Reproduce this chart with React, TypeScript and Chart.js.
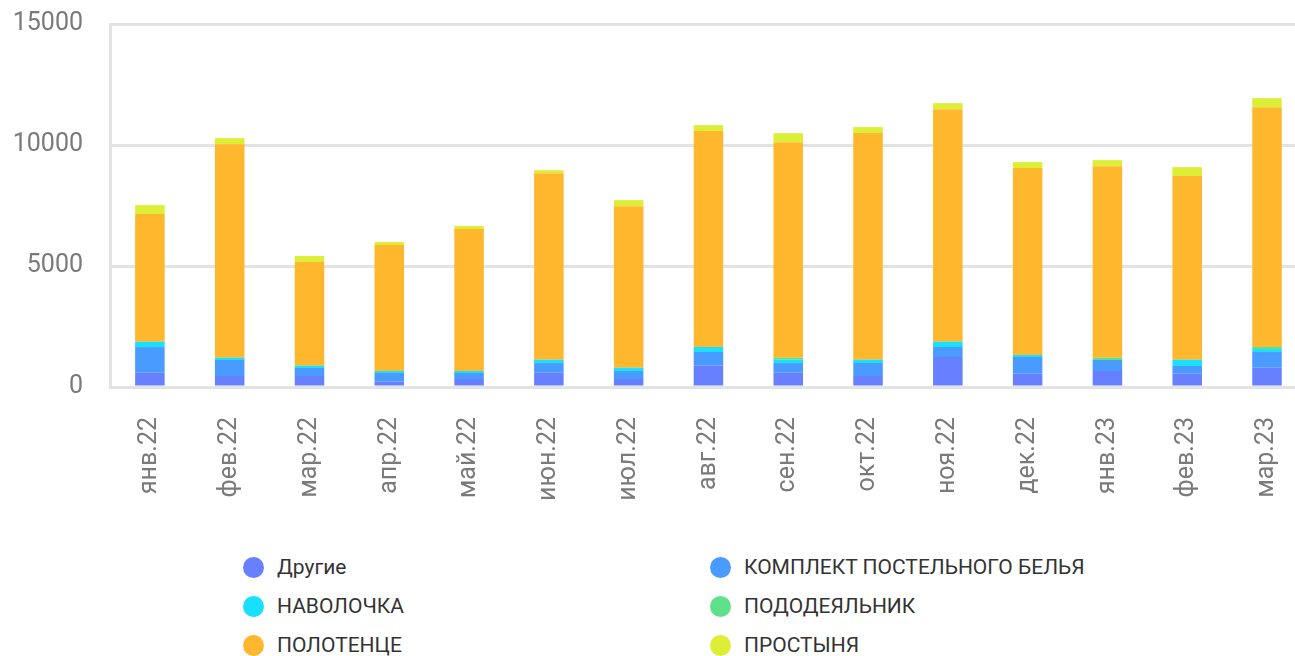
import React, { useEffect, useRef } from "react";
import { Chart, registerables } from "chart.js";

Chart.register(...registerables);

const categories = [
  "янв.22", "фев.22", "мар.22", "апр.22", "май.22", "июн.22", "июл.22", "авг.22",
  "сен.22", "окт.22", "ноя.22", "дек.22", "янв.23", "фев.23", "мар.23",
];

const drugie = [590, 455, 455, 220, 330, 590, 330, 880, 590, 455, 1239, 550, 661, 550, 797];
const komplekt = [1060, 660, 330, 358, 248, 400, 330, 566, 400, 537, 413, 690, 454, 317, 648];
const navolochka = [220, 95, 95, 83, 83, 136, 136, 207, 136, 136, 220, 83, 0, 261, 124];
const pododeyalnik = [0, 0, 0, 0, 0, 0, 0, 0, 83, 0, 0, 0, 95, 0, 83];
const polotence = [5275, 8826, 4283, 5204, 5865, 7710, 6678, 8921, 8908, 9363, 9610, 7723, 7917, 7587, 9912];
const prostynya = [372, 248, 248, 124, 124, 124, 248, 248, 372, 248, 248, 248, 248, 372, 372];

const yTicks = [0, 5000, 10000, 15000];

const seriesNames = [
  "Другие",
  "КОМПЛЕКТ ПОСТЕЛЬНОГО БЕЛЬЯ",
  "НАВОЛОЧКА",
  "ПОДОДЕЯЛЬНИК",
  "ПОЛОТЕНЦЕ",
  "ПРОСТЫНЯ",
];
const seriesData = [drugie, komplekt, navolochka, pododeyalnik, polotence, prostynya];
const seriesColors = ["#6680ff", "#4a9bff", "#1ae0ff", "#5fe08a", "#ffb72e", "#dcef36"];

const FONT = "Roboto, 'Noto Sans', sans-serif";

export default function App() {
  const canvasRef = useRef<HTMLCanvasElement | null>(null);

  useEffect(() => {
    const canvas = canvasRef.current;
    if (!canvas) return;
    const chart = new Chart(canvas, {
      type: "bar",
      data: {
        labels: categories,
        datasets: seriesNames.map((name, i) => ({
          label: name,
          data: seriesData[i],
          backgroundColor: seriesColors[i],
          borderWidth: 0,
          barPercentage: 0.37,
          categoryPercentage: 1,
          stack: "s",
        })),
      },
      options: {
        animation: false,
        responsive: false,
        layout: { padding: { top: 0, right: 0, left: 0, bottom: 0 } },
        plugins: {
          legend: { display: false },
          tooltip: { enabled: false },
        },
        scales: {
          x: {
            stacked: true,
            grid: { display: false, drawTicks: false },
            border: { display: false },
            ticks: {
              minRotation: 90,
              maxRotation: 90,
              autoSkip: false,
              padding: 30,
              color: "#7a7a7a",
              font: { family: FONT, size: 25 },
            },
            afterFit: (scale: any) => {
              scale.height = 143;
            },
          },
          y: {
            stacked: true,
            min: 0,
            max: 15000,
            afterBuildTicks: (scale: any) => {
              scale.ticks = yTicks.map((v) => ({ value: v }));
            },
            grid: { color: "#e3e3e3", lineWidth: 3, drawTicks: false },
            border: { display: true, color: "#e3e3e3", width: 3 },
            ticks: {
              padding: 27,
              color: "#7a7a7a",
              font: { family: FONT, size: 25 },
              callback: (v: any) => String(v),
            },
            afterFit: (scale: any) => {
              scale.width = 110;
            },
          },
        },
      },
    });
    return () => chart.destroy();
  }, []);

  const legendItem = (i: number) => {
    const col = i % 2;
    const row = Math.floor(i / 2);
    return (
      <div
        key={i}
        style={{
          position: "absolute",
          left: col === 0 ? 243 : 710,
          top: 567 + row * 39 - 12,
          height: 24,
          display: "flex",
          alignItems: "center",
          whiteSpace: "nowrap",
        }}
      >
        <span
          style={{
            display: "inline-block",
            width: 21,
            height: 21,
            borderRadius: "50%",
            background: seriesColors[i],
            marginRight: 13,
          }}
        />
        <span style={{ fontFamily: FONT, fontSize: 21, color: "#333" }}>{seriesNames[i]}</span>
      </div>
    );
  };

  return (
    <div
      style={{
        position: "fixed",
        left: 0,
        top: 0,
        width: 1295,
        height: 656,
        overflow: "hidden",
        background: "#fff",
      }}
    >
      <canvas
        ref={canvasRef}
        width={1327}
        height={548}
        style={{ position: "absolute", left: 0, top: -18, width: 1327, height: 548 }}
      />
      {seriesNames.map((_, i) => legendItem(i))}
    </div>
  );
}
